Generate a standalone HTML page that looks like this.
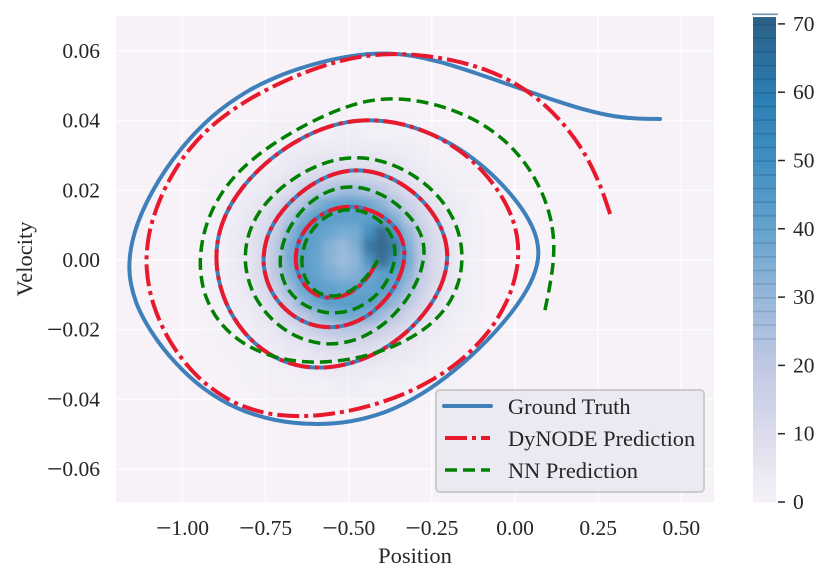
<!DOCTYPE html>
<html lang="en">
<head>
<meta charset="utf-8">
<title>Phase portrait: Position vs Velocity</title>
<style>
html,body{margin:0;padding:0;background:#fff;}
svg{display:block;}
text{font-family:"Liberation Serif",serif;fill:#262626;}
</style>
</head>
<body>
<svg id="chart" xmlns="http://www.w3.org/2000/svg" width="831" height="584" viewBox="0 0 831 584">
<defs>
<filter id="heat-blur" x="-20%" y="-20%" width="140%" height="140%"><feGaussianBlur stdDeviation="4"/></filter>
<clipPath id="plot-clip"><rect x="116" y="16" width="598" height="486"/></clipPath>
</defs>
<rect x="116" y="16" width="598" height="486" fill="#f6f2f8"/>
<g id="grid"></g>
<g id="heat" clip-path="url(#plot-clip)"><g id="heat-inner" filter="url(#heat-blur)"></g></g>
<g id="series" clip-path="url(#plot-clip)" fill="none"></g>
<g id="x-ticks"></g>
<g id="y-ticks"></g>
<text x="415" y="563" font-size="22.5" text-anchor="middle">Position</text>
<text transform="translate(32,259) rotate(-90)" font-size="22.5" text-anchor="middle">Velocity</text>
<g id="legend">
<rect x="436" y="390" width="268" height="102" rx="4" fill="#eaeaf2" fill-opacity="0.93" stroke="#cccccc" stroke-width="2"/>
<line x1="444" x2="491" y1="406" y2="406" stroke="#3f80bb" stroke-width="4" stroke-linecap="round"/>
<text x="508" y="414" font-size="22.4">Ground Truth</text>
<line x1="445" x2="490" y1="438" y2="438" stroke="#e8192c" stroke-width="4" stroke-dasharray="22 5 4 5"/>
<text x="508" y="446" font-size="22.4">DyNODE Prediction</text>
<line x1="445" x2="490" y1="470" y2="470" stroke="#008000" stroke-width="3.5" stroke-dasharray="12 6"/>
<text x="508" y="478" font-size="22.4">NN Prediction</text>
</g>
<g id="colorbar"></g>
</svg>
<script>
const xTickValues = [-1, -0.75, -0.5, -0.25, 0, 0.25, 0.5];
const xTickLabels = ["−1.00", "−0.75", "−0.50", "−0.25", "0.00", "0.25", "0.50"];
const yTickValues = [0.06, 0.04, 0.02, 0, -0.02, -0.04, -0.06];
const yTickLabels = ["0.06", "0.04", "0.02", "0.00", "−0.02", "−0.04", "−0.06"];
const cbTickValues = [0, 10, 20, 30, 40, 50, 60, 70];
const cbTickLabels = ["0", "10", "20", "30", "40", "50", "60", "70"];

const gtX = [.436,.367,.286,.216,.114,.006,-.135,-.235,-.316,-.397,-.496,-.586,-.707,-.806,-.908,-1.001,-1.088,-1.149,-1.158,-1.137,-1.088,-1.016,-.926,-.836,-.737,-.595,-.487,-.385,-.286,-.186,-.084,-.006,.045,.066,.06,.036,-.024,-.096,-.165,-.247,-.337,-.427,-.505,-.586,-.667,-.758,-.818,-.866,-.89,-.893,-.872,-.818,-.737,-.655,-.577,-.487,-.406,-.325,-.265,-.219,-.207,-.213,-.256,-.307,-.385,-.466,-.526,-.586,-.655,-.716,-.743,-.755,-.737,-.676,-.595,-.526,-.457,-.385,-.346,-.337,-.346,-.367,-.415,-.487,-.535,-.586,-.625,-.652,-.661,-.64,-.595,-.547,-.475,-.427,-.412];
const gtV = [.0405,.0405,.0413,.0431,.0459,.0497,.054,.0571,.0586,.0591,.0583,.0566,.0525,.0479,.0416,.0324,.0201,.0057,-.002,-.0106,-.021,-.0296,-.0373,-.0425,-.0454,-.0471,-.0459,-.0431,-.0388,-.0316,-.023,-.0144,-.0066,.0009,.0057,.0123,.0201,.0264,.0316,.0359,.0388,.0399,.0393,.0373,.033,.0273,.021,.0123,.0057,-.002,-.0123,-.021,-.0273,-.0296,-.0304,-.0293,-.0258,-.0207,-.0144,-.0057,.0009,.0057,.0144,.0201,.0238,.0255,.025,.0224,.0181,.0121,.0057,-.0009,-.0095,-.0158,-.0187,-.0187,-.0167,-.0115,-.0049,.002,.0057,.0095,.0138,.0155,.0149,.0123,.0086,.0043,0,-.0066,-.0106,-.0115,-.0086,-.0037,0];

const dyX = [.286,.262,.216,.15,.075,.006,-.084,-.186,-.286,-.385,-.487,-.556,-.707,-.818,-.896,-.968,-1.028,-1.073,-1.097,-1.103,-1.091,-1.037,-.953,-.866,-.758,-.655,-.565,-.436,-.286,-.186,-.084,-.024,0,.003,-.009,-.045,-.096,-.165,-.247,-.337,-.427,-.505,-.586,-.667,-.758,-.818,-.866,-.89,-.893,-.872,-.818,-.737,-.655,-.577,-.487,-.406,-.325,-.265,-.219,-.207,-.213,-.256,-.307,-.385,-.466,-.526,-.586,-.655,-.716,-.743,-.755,-.737,-.676,-.595,-.526,-.457,-.385,-.346,-.337,-.346,-.367,-.415,-.487,-.535,-.586,-.625,-.652,-.661,-.64,-.595,-.547,-.475,-.427,-.412];
const dyV = [.0132,.021,.0301,.0382,.0453,.0502,.0545,.0571,.0586,.0586,.0577,.0568,.0502,.0451,.0396,.0324,.025,.0152,.0057,-.002,-.0115,-.0238,-.0344,-.0396,-.0431,-.0442,-.0439,-.0416,-.0365,-.0307,-.0215,-.0115,-.0029,.0057,.0106,.0181,.0258,.031,.0359,.0388,.0399,.0393,.0373,.033,.0273,.021,.0123,.0057,-.002,-.0123,-.021,-.0273,-.0296,-.0304,-.0293,-.0258,-.0207,-.0144,-.0057,.0009,.0057,.0144,.0201,.0238,.0255,.025,.0224,.0181,.0121,.0057,-.0009,-.0095,-.0158,-.0187,-.0187,-.0167,-.0115,-.0049,.002,.0057,.0095,.0138,.0155,.0149,.0123,.0086,.0043,0,-.0066,-.0106,-.0115,-.0086,-.0037,0];

const nnX = [.09,.105,.114,.114,.105,.081,.036,-.024,-.096,-.186,-.286,-.367,-.436,-.505,-.586,-.667,-.767,-.836,-.866,-.917,-.938,-.944,-.926,-.887,-.818,-.716,-.595,-.487,-.355,-.265,-.216,-.186,-.159,-.165,-.195,-.247,-.307,-.385,-.466,-.526,-.586,-.655,-.728,-.776,-.8,-.806,-.788,-.737,-.655,-.556,-.487,-.406,-.325,-.292,-.28,-.286,-.295,-.337,-.397,-.466,-.526,-.586,-.646,-.685,-.71,-.692,-.646,-.565,-.487,-.427,-.382,-.361,-.37,-.391,-.436,-.487,-.535,-.586,-.625,-.652,-.625,-.586,-.547,-.487,-.436,-.412];
const nnV = [-.0144,-.0078,0,.0057,.0115,.0192,.0267,.0339,.0388,.0428,.0454,.0462,.0454,.0436,.0408,.0365,.0307,.025,.0201,.0123,.0057,-.002,-.0106,-.0178,-.0238,-.0278,-.0296,-.0281,-.0244,-.0192,-.0138,-.0086,0,.0057,.0135,.0195,.0244,.0278,.0293,.0287,.0267,.0235,.0192,.0123,.0057,-.0009,-.01,-.0166,-.0221,-.0244,-.0224,-.0192,-.0121,-.0057,.002,.0057,.0086,.0144,.0192,.0207,.0201,.0181,.0144,.0066,-.0009,-.0066,-.0123,-.0155,-.0149,-.0106,-.0052,.0009,.0057,.0092,.0129,.0144,.0138,.0109,.0063,0,-.0063,-.0095,-.0103,-.0086,-.0049,0];

const heatXBins = [-.92,-.88,-.84,-.8,-.76,-.72,-.68,-.64,-.6,-.56,-.52,-.48,-.44,-.4,-.36,-.32,-.28,-.24,-.2,-.16,-.12];
const heatVBins = [.04,.036,.032,.028,.024,.02,.016,.012,.008,.004,0,-.004,-.008,-.012,-.016,-.02,-.024,-.028,-.032,-.036,-.04];
const heatCounts = [
[0,0,0,0,1,2,2,2,2,2,2,2,2,2,2,2,1,0,0,0,0],
[0,0,0,1,2,2,2,3,3,3,5,5,3,3,3,2,2,2,1,0,0],
[0,0,1,2,2,3,5,5,6,6,6,6,6,6,5,5,3,2,2,1,0],
[0,1,2,2,3,5,6,8,9,10,10,10,10,9,8,6,5,3,2,2,1],
[1,2,2,3,5,6,9,11,13,15,16,16,15,13,11,9,6,5,3,2,2],
[2,2,3,5,6,9,12,16,21,25,29,29,25,21,16,12,9,6,5,3,2],
[2,2,5,6,9,12,18,25,36,42,44,44,41,34,24,17,12,9,6,5,2],
[2,3,5,8,11,15,24,38,46,46,45,45,46,46,36,23,15,10,8,5,3],
[2,3,6,9,12,19,33,45,45,42,38,39,54,71,50,32,18,12,8,5,3],
[2,3,6,9,13,22,38,46,44,36,31,37,66,72,64,37,21,13,9,5,3],
[2,3,6,9,13,22,39,46,43,35,30,33,52,70,54,39,22,13,9,5,3],
[2,3,6,9,13,21,36,46,44,38,34,36,41,46,46,35,20,13,9,5,3],
[2,3,5,8,12,18,30,42,46,44,42,42,44,46,41,29,17,11,8,5,3],
[2,3,5,6,10,14,21,33,42,46,46,46,46,41,32,21,14,10,6,5,3],
[2,2,3,5,8,11,15,21,29,36,40,40,36,29,21,15,11,8,5,3,2],
[1,2,3,5,6,8,11,14,18,21,23,23,20,17,14,11,8,6,5,3,2],
[0,2,2,3,5,6,8,9,11,13,14,14,13,11,9,8,6,5,3,2,2],
[0,0,2,2,3,5,6,6,8,9,9,9,9,8,6,6,5,3,2,2,0],
[0,0,1,2,2,3,3,5,5,6,6,6,6,5,5,3,3,2,2,1,0],
[0,0,0,1,2,2,2,3,3,3,5,5,3,3,3,2,2,2,1,0,0],
[0,0,0,0,1,2,2,2,2,2,2,2,2,2,2,2,1,0,0,0,0]
];
const colorStopValues = [0,10,20,30,40,50,60,71];
const colorStopHex = ["#f6f1f8","#dcdcec","#c0c8e3","#96b7da","#65a3cd","#3f8fc2","#2a7db3","#2b5f85"];
const colorbarMax = 71;

const NS = "http://www.w3.org/2000/svg";
function sx(x){ return 515 + 332.6 * x; }
function sy(v){ return 260 - 3483 * v; }
function sc(c){ return 502 - 6.83 * c; }
function make(tag, attrs, parent){
  const el = document.createElementNS(NS, tag);
  for (const k in attrs) el.setAttribute(k, attrs[k]);
  parent.appendChild(el);
  return el;
}
function hexToRgb(h){ return [1,3,5].map(i => parseInt(h.substr(i,2),16)); }
function colorFor(val){
  let i = 0;
  while (i < colorStopValues.length - 2 && val > colorStopValues[i+1]) i++;
  const a = colorStopValues[i], b = colorStopValues[i+1];
  const t = Math.max(0, Math.min(1, (val - a) / (b - a)));
  const ca = hexToRgb(colorStopHex[i]), cb = hexToRgb(colorStopHex[i+1]);
  const c = ca.map((v, k) => Math.round(v + (cb[k] - v) * t));
  return "rgb(" + c.join(",") + ")";
}
/* Non-shrinking (Taubin) smoothing removes point-to-point reading jitter. */
function relax(p, f){
  return p.map((q, i) => {
    if (i === 0 || i === p.length - 1) return q;
    return [
      q[0] + f * ((p[i-1][0] + p[i+1][0]) / 2 - q[0]),
      q[1] + f * ((p[i-1][1] + p[i+1][1]) / 2 - q[1])
    ];
  });
}
function smoothPath(xs, vs){
  let p = xs.map((x, i) => [sx(x), sy(vs[i])]);
  for (let n = 0; n < 10; n++){
    p = relax(p, 0.5);
    p = relax(p, -0.52);
  }
  let d = "M" + p[0][0].toFixed(2) + " " + p[0][1].toFixed(2);
  for (let i = 0; i < p.length - 1; i++){
    const p0 = p[Math.max(0, i-1)], p1 = p[i], p2 = p[i+1], p3 = p[Math.min(p.length-1, i+2)];
    const c1x = p1[0] + (p2[0]-p0[0]) / 6, c1y = p1[1] + (p2[1]-p0[1]) / 6;
    const c2x = p2[0] - (p3[0]-p1[0]) / 6, c2y = p2[1] - (p3[1]-p1[1]) / 6;
    d += "C" + [c1x,c1y,c2x,c2y,p2[0],p2[1]].map(n => n.toFixed(2)).join(" ");
  }
  return d;
}
function fillLabel(el, str){
  if (str.charAt(0) === "−"){
    const m = make("tspan", {"font-size": 27.5, dy: 1.8}, el);
    m.textContent = "−";
    const r = make("tspan", {dy: -1.8}, el);
    r.textContent = str.slice(1);
  } else {
    el.textContent = str;
  }
}

/* heatmap */
const heatLayer = document.getElementById("heat-inner");
const cellW = Math.abs(sx(heatXBins[1]) - sx(heatXBins[0]));
const cellH = Math.abs(sy(heatVBins[1]) - sy(heatVBins[0]));
heatCounts.forEach((row, r) => {
  row.forEach((count, c) => {
    if (count <= 0) return;
    const cell = make("rect", {
      x: sx(heatXBins[c]) - cellW / 2, y: sy(heatVBins[r]) - cellH / 2,
      width: cellW + 0.5, height: cellH + 0.5, fill: colorFor(count),
      "fill-opacity": Math.min(0.92, 0.35 + count / 25)
    }, heatLayer);
    
    
  });
});

/* grid and ticks */
const gridLayer = document.getElementById("grid");
const xTickLayer = document.getElementById("x-ticks");
const yTickLayer = document.getElementById("y-ticks");
xTickValues.forEach((val, i) => {
  const line = make("line", {x1: sx(val), x2: sx(val), y1: 16, y2: 502, stroke: "#fff", "stroke-opacity": 0.8, "stroke-width": 1.5}, gridLayer);
  
  
  const label = make("text", {x: sx(val), y: 535, "font-size": 21.5, "text-anchor": "middle"}, xTickLayer);
  fillLabel(label, xTickLabels[i]);
  
  
});
yTickValues.forEach((val, i) => {
  const line = make("line", {x1: 116, x2: 714, y1: sy(val), y2: sy(val), stroke: "#fff", "stroke-opacity": 0.8, "stroke-width": 1.5}, gridLayer);
  
  
  const label = make("text", {x: 100, y: sy(val) + 7, "font-size": 21.5, "text-anchor": "end"}, yTickLayer);
  fillLabel(label, yTickLabels[i]);
  
  
});

/* series */
const seriesLayer = document.getElementById("series");
const gtPath = make("path", {d: smoothPath(gtX, gtV), stroke: "#3f80bb", "stroke-width": 4, "stroke-linecap": "round"}, seriesLayer);


const dyPath = make("path", {d: smoothPath(dyX, dyV), stroke: "#e8192c", "stroke-width": 4, "stroke-dasharray": "22 5 4 5"}, seriesLayer);


const nnPath = make("path", {d: smoothPath(nnX, nnV), stroke: "#008000", "stroke-width": 3.5, "stroke-dasharray": "12 6"}, seriesLayer);



/* colorbar */
const cbLayer = document.getElementById("colorbar");
for (let v = 0; v < colorbarMax; v += 1){
  const top = sc(Math.min(v + 1, colorbarMax));
  const band = make("rect", {x: 753, y: top, width: 23, height: sc(v) - top + 0.4, fill: colorFor(v + 0.5)}, cbLayer);
  
  
}
for (let v = 24; v < colorbarMax; v += 2){
  const seam = make("rect", {x: 753, y: sc(v), width: 23, height: 1.5, fill: "#103a5c", "fill-opacity": 0.1 + v / 400}, cbLayer);
  
  
}
const cap = make("rect", {x: 752, y: 13.5, width: 26, height: 1.6, fill: "#6d8fab"}, cbLayer);


cbTickValues.forEach((val, i) => {
  const tick = make("line", {x1: 778, x2: 785, y1: sc(val), y2: sc(val), stroke: "#262626", "stroke-width": 1.5}, cbLayer);
  
  
  const label = make("text", {x: 793, y: sc(val) + 7, "font-size": 21.5}, cbLayer);
  label.textContent = cbTickLabels[i];
  
  
});
</script>
</body>
</html>
